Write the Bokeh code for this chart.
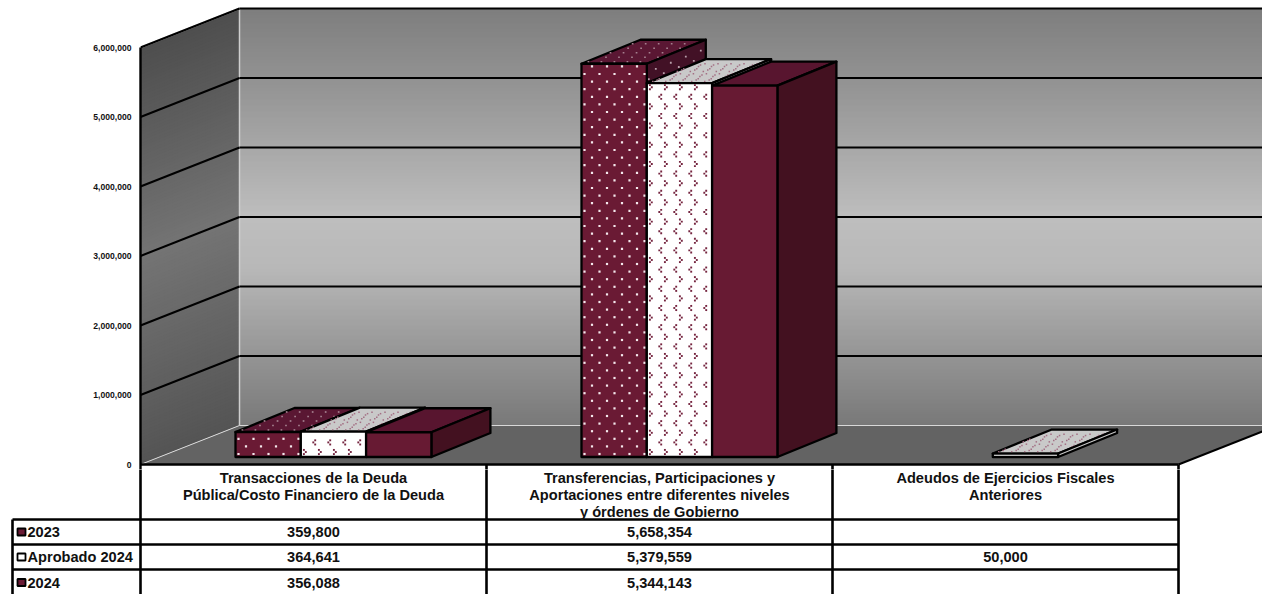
from bokeh.plotting import figure
from bokeh.layouts import column, row
from bokeh.models import Range1d, FixedTicker, NumeralTickFormatter
from bokeh.core.properties import value
from bokeh.embed import file_html
from bokeh.resources import INLINE

categories = [
    "Transacciones de la Deuda\nPública/Costo Financiero de la Deuda",
    "Transferencias, Participaciones y\nAportaciones entre diferentes niveles\ny órdenes de Gobierno",
    "Adeudos de Ejercicios Fiscales\nAnteriores",
]
series_names = ["2023", "Aprobado 2024", "2024"]
values_2023 = [359800, 5658354, None]
values_aprobado = [364641, 5379559, 50000]
values_2024 = [356088, 5344143, None]
y_ticks = [0, 1000000, 2000000, 3000000, 4000000, 5000000, 6000000]

FONT = value("Liberation Sans")
K = 6000000 / 417.0          # value units per pixel
FLOOR_PX, SPLIT_PX = 464, 469
def up(px):                  # pixels above the chart floor, as axis value
    return px * K
def py(pix):                 # page y, as axis value
    return (FLOOR_PX - pix) * K

DEPTH_X, DEPTH_Y = 99, 39    # wall depth
BAR_DX, BAR_DY = 59, 24      # bar depth
BASE = up(7.5)
BAR_W = 65.3
GROUP0, GROUP_STEP = 235.0, 346.0

COL_X = [140, 486, 832, 1178]
ROW_Y = [519, 544, 569]
ROW_TEXT_Y = [531.5, 556.5, 582]
LINE_W = 2.6

top = figure(width=1262, height=SPLIT_PX, output_backend="svg", toolbar_location=None,
             x_range=Range1d(140, 1262), y_range=Range1d(py(SPLIT_PX), py(0)),
             min_border_left=140, min_border_right=0, min_border_top=0, min_border_bottom=0,
             outline_line_color=None, background_fill_color="white", border_fill_color="white")
top.grid.visible = False
top.xaxis.visible = False
ax = top.yaxis[0]
ax.ticker = FixedTicker(ticks=y_ticks)
ax.formatter = NumeralTickFormatter(format="0,0")
ax.major_tick_line_color = None
ax.minor_tick_line_color = None
ax.axis_line_color = "black"
ax.axis_line_width = 2.4
ax.bounds = (py(SPLIT_PX), 6000000)
ax.major_label_text_font = "Liberation Sans"
ax.major_label_text_font_style = "bold"
ax.major_label_text_font_size = "8.6px"
ax.major_label_text_color = "#111111"
ax.major_label_standoff = 3

def lerp(stops, t):
    for (t0, c0), (t1, c1) in zip(stops, stops[1:]):
        if t <= t1:
            f = (t - t0) / (t1 - t0)
            v = [round(a + (b - a) * f) for a, b in zip(c0, c1)]
            return "#%02x%02x%02x" % tuple(v)
    return "#%02x%02x%02x" % tuple(stops[-1][1])

back_stops = [(0, (126, 126, 126)), (0.2, (150, 150, 150)), (0.5, (190, 190, 190)), (0.62, (184, 184, 184)), (1, (120, 120, 120))]
left_stops = [(0, (78, 78, 78)), (0.5, (116, 116, 116)), (1, (84, 84, 84))]

# back wall
wall_top, wall_bot = 8, 425
ys0, ys1, cols = [], [], []
for pix in range(wall_top, wall_bot, 2):
    ys0.append(py(pix)); ys1.append(py(min(pix + 3, wall_bot)))
    cols.append(lerp(back_stops, (pix - wall_top) / (wall_bot - wall_top)))
top.quad(left=239, right=1262, top=ys0, bottom=ys1, fill_color=cols, line_color=None)

# left wall
xs, ys, cols = [], [], []
for pix in range(47, 464, 3):
    bot = min(pix + 5, 464)
    xs.append([140, 239, 239, 140])
    ys.append([py(pix), py(pix - DEPTH_Y), py(bot - DEPTH_Y), py(bot)])
    cols.append(lerp(left_stops, (pix - 47) / 417))
top.patches(xs, ys, fill_color=cols, line_color=None)

# floor
top.patch([140, 239, 1262, 1262, 1178], [0, up(DEPTH_Y), up(DEPTH_Y), up(33), 0],
          fill_color="#636363", line_color=None)

# wall edges
top.line([140, 239], [up(417), up(417 + DEPTH_Y)], line_color="#c4c4c4", line_width=2)
top.line([239, 239], [up(DEPTH_Y), up(417 + DEPTH_Y)], line_color="#cfcfcf", line_width=1.5)
top.line([140, 239, 1262], [0, up(DEPTH_Y), up(DEPTH_Y)], line_color="#d8d8d8", line_width=1)
top.line([239, 1262], [up(417 + DEPTH_Y), up(417 + DEPTH_Y)], line_color="black", line_width=2)

# grid lines
for t in y_ticks[1:]:
    top.line([140, 239], [t, t + up(DEPTH_Y)], line_color="black", line_width=2)
    if t < y_ticks[-1]:
        top.line([239, 1262], [t + up(DEPTH_Y), t + up(DEPTH_Y)], line_color="black", line_width=2)
top.line([1178, 1262], [0, up(33)], line_color="black", line_width=2)
top.line([140, 1178], [0, 0], line_color="black", line_width=2.6)
for x in COL_X[1:]:
    top.line([x, x], [0, py(SPLIT_PX)], line_color="black", line_width=LINE_W)

FACE = {
    0: dict(front="#6a1a34", top="#5a1733", side="#421126"),
    1: dict(front="#ffffff", top="#c9c9c9", side="#c9c9c9"),
    2: dict(front="#671a33", top="#58152f", side="#431120"),
}

def dots(x0, y0, w, h, shear_x, sx, sy, inset=2.0):
    out = []
    r = 0
    d = inset
    while d < h - 0.5:
        a = inset + (sx / 2 if r % 2 else 0)
        while a < w - 1:
            out.append((x0 + a + shear_x * d, y0 + up(d)))
            a += sx
        d += sy
        r += 1
    return out

def dot_marks(points, color, size):
    if points:
        top.scatter([p[0] for p in points], [p[1] for p in points], marker="square", size=size,
                    fill_color=color, line_color=None)

def chevrons(x0, y0, w, h, shear_x, sx, sy, color, size, arm, inset=3.0):
    pts = []
    d = inset
    r = 0
    while d < h - 2:
        a = inset + (sx / 2 if r % 2 else 0)
        sign = 1 if r % 2 else -1
        while a < w - 2:
            for da, dd in ((sign * arm, arm * 1.1), (0, 0), (sign * arm, -arm * 1.1)):
                pts.append((x0 + a + da + shear_x * (d + dd), y0 + up(d + dd)))
            a += sx
        d += sy
        r += 1
    dot_marks(pts, color, size)

def draw_bar(g, s, v):
    x0 = GROUP0 + g * GROUP_STEP + s * BAR_W
    x1 = x0 + BAR_W
    y0, y1 = BASE, BASE + v
    f = FACE[s]
    h_px = v / K
    edge = dict(line_color="black", line_width=2.3, line_join="round")
    shear = BAR_DX / BAR_DY
    top.patch([x0, x1, x1 + BAR_DX, x0 + BAR_DX], [y1, y1, y1 + up(BAR_DY), y1 + up(BAR_DY)], fill_color=f["top"], **edge)
    if s == 0:
        dot_marks(dots(x0, y1, BAR_W, BAR_DY, shear, 13, 4.5), "#a5808f", 1.7)
    if s == 1:
        chevrons(x0, y1, BAR_W, BAR_DY, shear, 13, 5, "#a36f84", 1.5, 1.2)
    top.patch([x1, x1 + BAR_DX, x1 + BAR_DX, x1], [y0, y0 + up(BAR_DY), y1 + up(BAR_DY), y1], fill_color=f["side"], **edge)
    if s == 0:
        pts = []
        d = 2.0; r = 0
        while d < h_px - 2:
            a = 2 + (7 if r % 2 else 0)
            while a < BAR_DX - 1:
                pts.append((x1 + a, y0 + up(d + a * BAR_DY / BAR_DX)))
                a += 15
            d += 7.5; r += 1
        dot_marks(pts, "#b9a0ab", 1.8)
    top.patch([x0, x1, x1, x0], [y0, y0, y1, y1], fill_color=f["front"], **edge)
    if s == 0:
        dot_marks(dots(x0, y0, BAR_W, h_px, 0, 15, 7.6, inset=3.0), "#f4e8ec", 2.2)
    if s == 1:
        chevrons(x0, y0, BAR_W, h_px, 0, 15, 9.6, "#75243f", 1.9, 1.9, inset=5.0)

for g in range(3):
    for s, vals in enumerate([values_2023, values_aprobado, values_2024]):
        if vals[g] is not None:
            draw_bar(g, s, vals[g])

# ---- data table ----
tbl = figure(width=1262, height=594 - SPLIT_PX, output_backend="svg", toolbar_location=None,
             x_range=Range1d(0, 1262), y_range=Range1d(594, SPLIT_PX),
             min_border_left=0, min_border_right=0, min_border_top=0, min_border_bottom=0,
             outline_line_color=None, background_fill_color="white", border_fill_color="white")
tbl.grid.visible = False
tbl.axis.visible = False

for x in COL_X:
    tbl.line([x, x], [SPLIT_PX - 2, 594], line_color="black", line_width=LINE_W)
tbl.line([12, 12], [519, 594], line_color="black", line_width=LINE_W)
for y in ROW_Y:
    tbl.line([12, 1178], [y, y], line_color="black", line_width=LINE_W)

txt = dict(text_font=FONT, text_font_style="bold", text_font_size="14.6px", text_color="#111111")
for i, cat in enumerate(categories):
    cx = (COL_X[i] + COL_X[i + 1]) / 2
    for j, line in enumerate(cat.split("\n")):
        tbl.text([cx], [477 + j * 17], text=[line], text_align="center", text_baseline="middle", **txt)

for r, (name, vals) in enumerate(zip(series_names, [values_2023, values_aprobado, values_2024])):
    yc = ROW_TEXT_Y[r]
    tbl.quad(left=[17], right=[25], top=[yc - 3.5], bottom=[yc + 3.5],
             fill_color="white" if r == 1 else "#6a1a34", line_color="black", line_width=1.8)
    tbl.text([27], [yc], text=[name], text_align="left", text_baseline="middle", **txt)
    for i, v in enumerate(vals):
        if v is not None:
            cx = (COL_X[i] + COL_X[i + 1]) / 2
            tbl.text([cx], [yc], text=[f"{v:,}"], text_align="center", text_baseline="middle", **txt)

page = column(row(top), row(tbl), spacing=0)
open("out.html", "w").write(file_html(page, INLINE))
